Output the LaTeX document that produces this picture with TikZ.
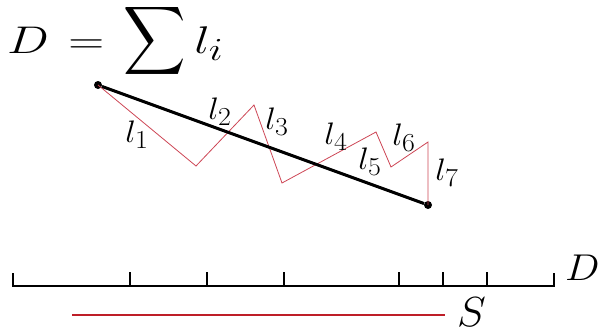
\documentclass[tikz,border=0pt]{standalone}
\usepackage{amsmath}
\usepackage{graphicx}
\usepackage{tikz}
\usetikzlibrary{positioning,calc}

\definecolor{zigred}{RGB}{205,70,85}
\definecolor{linered}{RGB}{190,30,40}
% math at \Huge, stretched by x and y factors
\newcommand{\hugemath}[3]{\scalebox{#1}[#2]{\Huge$\displaystyle #3$}}

\begin{document}
\begin{tikzpicture}[
    x=1pt,y=-1pt,
    dotpt/.style={circle,fill=black,inner sep=0pt,minimum size=8pt},
    zig/.style={zigred,line width=0.8pt,line join=miter},
    ruler/.style={line width=2.6pt,line cap=butt},
    lab/.style={inner sep=0pt},
]
\useasboundingbox (0,0) rectangle (603,335);

% Formula at the top
\node[lab,anchor=base west] (formula) at (7,53)
  {\hugemath{2.0}{1.55}{D\mkern2mu=\mkern2mu\smash{\scalebox{0.87}[1.24]{$\displaystyle\sum$}}\, l_i}};

% End points of the straight distance
\node[dotpt] (start) at (98,85)  {};
\node[dotpt] (stop)  at (428,205) {};

% Corners of the red path
\coordinate (c1) at (196,166);
\coordinate (c2) at (254,105);
\coordinate (c3) at (282,183);
\coordinate (c4) at (376,132);
\coordinate (c5) at (391,167);
\coordinate (c6) at (428,142);

\draw[zig] (start.center) -- (c1) -- (c2) -- (c3) -- (c4) -- (c5) -- (c6) -- (stop.center);
\draw[line width=3pt] (start) -- (stop);

% Segment labels
\node[lab] (l1) at (137,135) {\hugemath{1.35}{1.25}{l_1}};
\node[lab] (l2) at (220,112) {\hugemath{1.35}{1.25}{l_2}};
\node[lab] (l3) at (277,122) {\hugemath{1.35}{1.25}{l_3}};
\node[lab] (l4) at (336,137) {\hugemath{1.35}{1.25}{l_4}};
\node[lab] (l5) at (370,162) {\hugemath{1.35}{1.25}{l_5}};
\node[lab] (l6) at (404,138) {\hugemath{1.35}{1.25}{l_6}};
\node[lab] (l7) at (447,173) {\hugemath{1.35}{1.25}{l_7}};

% Ruler with ticks
\coordinate (r0) at (13,286);
\coordinate (r7) at (554,286);
\draw[ruler] ($(r0)+(0,-13)$) -- (r0) -- (r7) -- ($(r7)+(0,-13)$);
\foreach \tx in {130,207,284,399,443,487}
  \draw[ruler] (\tx,286) -- (\tx,272);
\node[lab,anchor=west] (dlab) at (565,268) {\hugemath{1.65}{1.5}{D}};

% Displacement
\coordinate (s0) at (72,314.5);
\coordinate (s1) at (445,314.5);
\draw[linered,line width=2pt] (s0) -- (s1);
\node[lab,anchor=west] (slab) at (457,312) {\hugemath{1.75}{1.69}{S}};
\end{tikzpicture}
\end{document}
